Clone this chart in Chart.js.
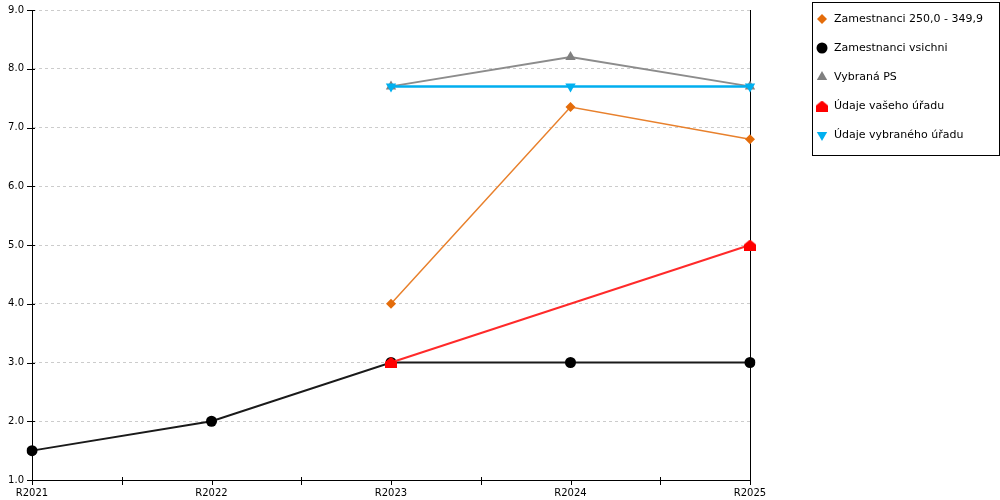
<!DOCTYPE html>
<html>
<head>
<meta charset="utf-8">
<script src="https://cdn.jsdelivr.net/npm/chart.js@4/dist/chart.umd.min.js"></script>
<style>
  html, body { margin: 0; padding: 0; background: #fff; }
  canvas { display: block; }
</style>
</head>
<body>
<canvas id="chart" width="1000" height="500"></canvas>
<script>
const labels = ['R2021', 'R2022', 'R2023', 'R2024', 'R2025'];
const zam250 = [null, null, 4.0, 7.35, 6.8];
const zamVsichni = [1.5, 2.0, 3.0, 3.0, 3.0];
const vybranaPS = [null, null, 7.7, 8.2, 7.7];
const vasUrad = [null, null, 3.0, null, 5.0];
const vybranyUrad = [null, null, 7.7, 7.7, 7.7];
const yTicks = [1, 2, 3, 4, 5, 6, 7, 8, 9];

const FONT = 'DejaVu Sans';

// house shaped marker for "Údaje vašeho úřadu"
function houseMarker(color) {
    const c = document.createElement('canvas');
    c.width = 12; c.height = 11;
    const g = c.getContext('2d');
    g.fillStyle = color;
    g.beginPath();
    g.moveTo(6, 0);
    g.lineTo(12, 5);
    g.lineTo(12, 11);
    g.lineTo(0, 11);
    g.lineTo(0, 5);
    g.closePath();
    g.fill();
    return c;
}
const house = houseMarker('#ff0000');

// tick marks crossing the axes + legend box
const extras = {
    id: 'extras',
    afterDraw(chart) {
        const ctx = chart.ctx;
        const x = chart.scales.x, y = chart.scales.y;
        const area = chart.chartArea;
        ctx.save();
        ctx.strokeStyle = '#000';
        ctx.lineWidth = 1;
        ctx.beginPath();
        for (let i = 0; i < labels.length; i++) {
            const px = Math.round(x.getPixelForValue(i)) + 0.5;
            ctx.moveTo(px, area.bottom);
            ctx.lineTo(px, area.bottom + 5);
            if (i < labels.length - 1) {
                const mx = Math.round(x.getPixelForValue(i + 0.5)) + 0.5;
                ctx.moveTo(mx, area.bottom - 3);
                ctx.lineTo(mx, area.bottom + 5);
            }
        }
        yTicks.forEach(v => {
            const py = Math.round(y.getPixelForValue(v)) + 0.5;
            ctx.moveTo(area.left - 5, py);
            ctx.lineTo(area.left + 3, py);
        });
        ctx.stroke();

        // legend
        const lx = 812.5, ly = 2.5, lw = 187, lh = 153;
        ctx.strokeRect(lx, ly, lw, lh);
        ctx.font = '11px "' + FONT + '"';
        ctx.textBaseline = 'middle';
        ctx.fillStyle = '#000';
        chart.data.datasets.forEach((ds, i) => {
            const cy = 19 + i * 29;
            ctx.save();
            ctx.fillStyle = ds.pointBackgroundColor;
            ctx.strokeStyle = ds.pointBackgroundColor;
            Chart.helpers.drawPoint(ctx, {
                pointStyle: ds.pointStyle,
                radius: ds.pointRadius,
                rotation: ds.pointRotation || 0,
                borderWidth: 0
            }, 822, cy);
            ctx.restore();
            ctx.fillText(ds.label, 834, cy);
        });
        ctx.restore();
    }
};

new Chart(document.getElementById('chart'), {
    type: 'line',
    data: {
        labels: labels,
        datasets: [
            { label: 'Zamestnanci 250,0 - 349,9', data: zam250, borderColor: '#e8802c', borderWidth: 1.5,
              pointStyle: 'rectRot', pointRadius: 5, pointBackgroundColor: '#e46c0a', pointBorderWidth: 0, order: 4 },
            { label: 'Zamestnanci vsichni', data: zamVsichni, borderColor: '#1a1a1a', borderWidth: 2,
              pointStyle: 'circle', pointRadius: 5.5, pointBackgroundColor: '#000000', pointBorderWidth: 0, order: 5 },
            { label: 'Vybraná PS', data: vybranaPS, borderColor: '#8c8c8c', borderWidth: 2,
              pointStyle: 'triangle', pointRadius: 6, pointBackgroundColor: '#808080', pointBorderWidth: 0, order: 3 },
            { label: 'Údaje vašeho úřadu', data: vasUrad, borderColor: '#ff2a2a', borderWidth: 2, spanGaps: true,
              pointStyle: house, pointRadius: 6, pointBackgroundColor: '#ff0000', pointBorderWidth: 0, order: 2 },
            { label: 'Údaje vybraného úřadu', data: vybranyUrad, borderColor: '#00aeef', borderWidth: 2.5,
              pointStyle: 'triangle', pointRotation: 180, pointRadius: 6, pointBackgroundColor: '#00b0f0', pointBorderWidth: 0, order: 1 }
        ]
    },
    options: {
        responsive: false,
        animation: false,
        devicePixelRatio: 1,
        layout: { padding: { left: 0, top: 10, right: 250, bottom: 0 } },
        plugins: { legend: { display: false }, tooltip: { enabled: false } },
        elements: { line: { tension: 0 } },
        scales: {
            x: {
                afterFit: s => { s.height = 20; s.paddingLeft = 0; s.paddingRight = 0; },
                grid: {
                    drawTicks: false,
                    color: c => c.index === labels.length - 1 ? '#000000' : 'rgba(0,0,0,0)',
                    lineWidth: 1
                },
                border: { color: '#000', width: 1 },
                ticks: { color: '#000', padding: 7, maxRotation: 0, font: { family: FONT, size: 10 } }
            },
            y: {
                min: 1, max: 9,
                afterFit: s => { s.width = 32; s.paddingTop = 0; s.paddingBottom = 0; },
                afterBuildTicks: s => { s.ticks = yTicks.map(v => ({ value: v })); },
                grid: {
                    drawTicks: false,
                    color: c => c.index === 0 ? 'rgba(0,0,0,0)' : '#cccccc',
                    lineWidth: 1
                },
                border: { color: '#000', width: 1, dash: [3, 3] },
                ticks: { color: '#000', padding: 8, font: { family: FONT, size: 10 },
                         callback: v => v.toFixed(1) }
            }
        }
    },
    plugins: [extras]
});
</script>
</body>
</html>
